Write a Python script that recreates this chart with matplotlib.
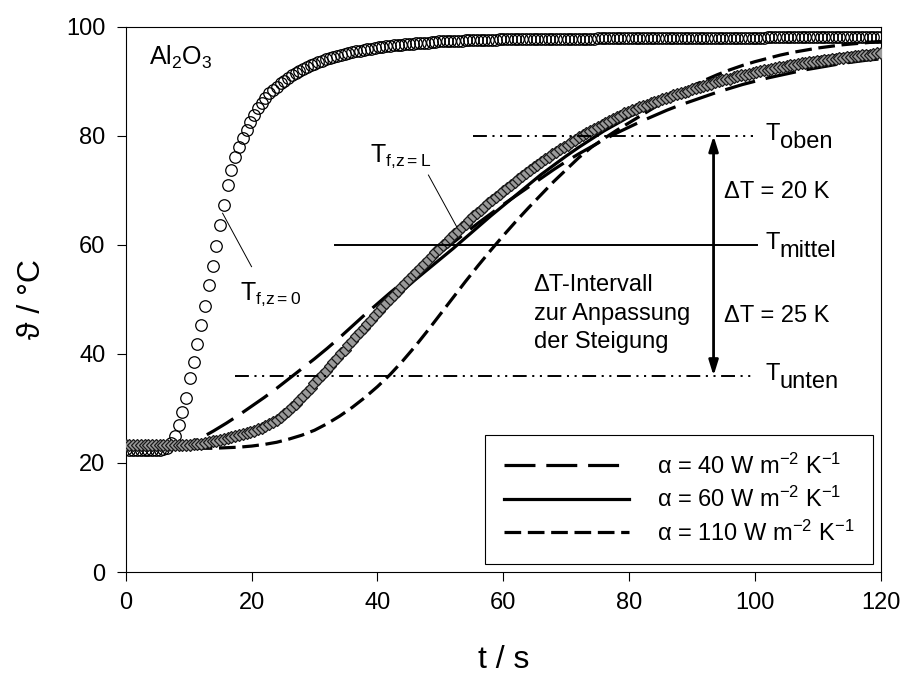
import numpy as np
import matplotlib
matplotlib.use("Agg")
import matplotlib.pyplot as plt

plt.rcParams['font.family'] = ['Liberation Sans', 'DejaVu Sans']
plt.rcParams['mathtext.fontset'] = 'custom'
plt.rcParams['mathtext.rm'] = 'Liberation Sans'
plt.rcParams['mathtext.it'] = 'Liberation Sans:italic'
plt.rcParams['lines.scale_dashes'] = False

# measured fluid temperatures (sampled every 0.6 s)
t_meas = np.linspace(0, 120, 201)
T_in = [
    22.6, 22.4, 22.4, 22.4, 22.4, 22.4, 22.4, 22.4, 22.4, 22.4,
    22.5, 22.8, 23.7, 25.0, 27.0, 29.4, 32.0, 35.5, 38.6, 41.8,
    45.3, 48.8, 52.6, 56.1, 59.7, 63.6, 67.3, 70.9, 73.8, 76.1,
    77.9, 79.6, 81.1, 82.6, 83.9, 85.1, 86.1, 87.0, 87.8, 88.4,
    89.0, 89.6, 90.1, 90.6, 91.1, 91.5, 91.9, 92.3, 92.6, 92.9,
    93.2, 93.5, 93.8, 94.0, 94.2, 94.4, 94.6, 94.8, 95.0, 95.2,
    95.3, 95.5, 95.6, 95.8, 95.9, 96.0, 96.1, 96.2, 96.3, 96.4,
    96.5, 96.6, 96.7, 96.7, 96.8, 96.9, 96.9, 97.0, 97.0, 97.1,
    97.1, 97.2, 97.2, 97.3, 97.3, 97.3, 97.4, 97.4, 97.4, 97.4,
    97.5, 97.5, 97.5, 97.5, 97.6, 97.6, 97.6, 97.6, 97.6, 97.7,
    97.7, 97.7, 97.7, 97.7, 97.7, 97.8, 97.8, 97.8, 97.8, 97.8,
    97.8, 97.8, 97.8, 97.8, 97.8, 97.8, 97.8, 97.8, 97.8, 97.8,
    97.8, 97.8, 97.8, 97.8, 97.8, 97.9, 97.9, 97.9, 97.9, 97.9,
    97.9, 97.9, 97.9, 97.9, 97.9, 97.9, 97.9, 97.9, 97.9, 97.9,
    97.9, 97.9, 97.9, 97.9, 97.9, 97.9, 97.9, 97.9, 97.9, 97.9,
    98.0, 98.0, 98.0, 98.0, 98.0, 98.0, 98.0, 98.0, 98.0, 98.0,
    98.0, 98.0, 98.0, 98.0, 98.0, 98.0, 98.0, 98.0, 98.0, 98.0,
    98.1, 98.1, 98.1, 98.1, 98.1, 98.1, 98.1, 98.1, 98.1, 98.1,
    98.1, 98.1, 98.1, 98.1, 98.1, 98.1, 98.1, 98.1, 98.1, 98.1,
    98.2, 98.2, 98.2, 98.2, 98.2, 98.2, 98.2, 98.2, 98.2, 98.2,
    98.2,
]
T_out = [
    23.3, 23.3, 23.3, 23.3, 23.3, 23.3, 23.3, 23.3, 23.3, 23.3,
    23.3, 23.3, 23.3, 23.3, 23.3, 23.3, 23.3, 23.3, 23.4, 23.4,
    23.5, 23.6, 23.8, 24.0, 24.1, 24.2, 24.4, 24.6, 24.7, 24.9,
    25.1, 25.3, 25.5, 25.7, 25.9, 26.2, 26.4, 26.7, 27.1, 27.5,
    27.9, 28.5, 29.0, 29.6, 30.2, 30.9, 31.6, 32.3, 33.0, 33.8,
    34.6, 35.4, 36.2, 36.9, 37.7, 38.5, 39.3, 40.1, 40.8, 41.6,
    42.4, 43.2, 44.0, 44.7, 45.5, 46.3, 47.1, 47.8, 48.6, 49.4,
    50.1, 50.8, 51.5, 52.3, 53.0, 53.7, 54.4, 55.1, 55.8, 56.5,
    57.2, 57.9, 58.6, 59.3, 59.9, 60.6, 61.3, 61.9, 62.6, 63.2,
    63.9, 64.5, 65.2, 65.8, 66.4, 67.0, 67.6, 68.2, 68.8, 69.3,
    69.9, 70.5, 71.0, 71.6, 72.1, 72.7, 73.2, 73.7, 74.2, 74.7,
    75.2, 75.7, 76.2, 76.6, 77.1, 77.6, 78.0, 78.4, 78.9, 79.3,
    79.7, 80.1, 80.5, 80.9, 81.2, 81.6, 82.0, 82.3, 82.7, 83.0,
    83.4, 83.7, 84.1, 84.4, 84.7, 85.0, 85.2, 85.5, 85.7, 86.0,
    86.2, 86.4, 86.7, 86.9, 87.2, 87.4, 87.6, 87.8, 88.0, 88.3,
    88.5, 88.7, 88.9, 89.1, 89.3, 89.5, 89.8, 90.0, 90.2, 90.4,
    90.5, 90.7, 90.9, 91.1, 91.2, 91.4, 91.5, 91.7, 91.8, 92.0,
    92.1, 92.3, 92.4, 92.6, 92.7, 92.8, 92.9, 93.0, 93.1, 93.3,
    93.4, 93.5, 93.6, 93.7, 93.8, 93.9, 93.9, 94.0, 94.1, 94.2,
    94.3, 94.4, 94.5, 94.6, 94.7, 94.8, 94.8, 94.9, 95.0, 95.1,
    95.2,
]

# model curves (every 2 s)
t_model = np.arange(0, 121, 2)
T_a40 = [
    22.8, 22.8, 22.8, 22.8, 23.0, 23.6, 24.6, 25.9, 27.3, 28.8,
    30.4, 32.0, 33.7, 35.5, 37.3, 39.1, 41.0, 43.0, 45.1, 47.2,
    49.2, 51.2, 53.1, 55.0, 56.8, 58.6, 60.4, 62.2, 64.0, 65.7,
    67.4, 69.0, 70.6, 72.2, 73.8, 75.3, 76.7, 78.0, 79.3, 80.5,
    81.6, 82.7, 83.7, 84.7, 85.6, 86.4, 87.2, 88.0, 88.7, 89.4,
    90.0, 90.6, 91.1, 91.6, 92.1, 92.5, 92.9, 93.3, 93.6, 93.9,
    94.1,
]
T_a60 = [
    23.0, 23.0, 23.0, 23.0, 23.0, 23.1, 23.2, 23.5, 24.0, 24.6,
    25.4, 26.5, 27.9, 29.6, 31.6, 34.0, 36.6, 39.3, 42.0, 44.6,
    47.1, 49.4, 51.6, 53.6, 55.5, 57.4, 59.3, 61.3, 63.3, 65.3,
    67.2, 69.1, 71.0, 72.9, 74.6, 76.3, 77.9, 79.4, 80.9, 82.2,
    83.5, 84.6, 85.7, 86.7, 87.7, 88.6, 89.4, 90.2, 90.9, 91.5,
    92.1, 92.6, 93.1, 93.5, 93.9, 94.3, 94.6, 94.9, 95.2, 95.4,
    95.6,
]
T_a110 = [
    22.7, 22.7, 22.7, 22.7, 22.7, 22.7, 22.7, 22.7, 22.8, 22.9,
    23.1, 23.4, 23.8, 24.4, 25.1, 26.0, 27.2, 28.6, 30.2, 32.0,
    34.0, 36.2, 38.7, 41.4, 44.3, 47.3, 50.3, 53.3, 56.2, 59.0,
    61.7, 64.3, 66.8, 69.2, 71.6, 73.8, 76.0, 77.9, 79.5, 81.0,
    82.4, 83.8, 85.2, 86.6, 87.9, 89.1, 90.2, 91.2, 92.1, 92.9,
    93.6, 94.2, 94.8, 95.3, 95.7, 96.1, 96.4, 96.7, 96.9, 97.1,
    97.3,
]
alpha_values = [40, 60, 110]

# evaluation levels for the slope fit
T_levels = [80, 60, 36]
level_names = ['oben', 'mittel', 'unten']

fig, ax = plt.subplots(figsize=(9.06, 6.73), dpi=100)
fig.subplots_adjust(left=0.1387, right=0.9724, bottom=0.15, top=0.9603)

ax.plot(t_meas, T_in, ls='none', marker='o', ms=8.3, mfc='none', mec='k', mew=0.9, zorder=2)

styles = [(0, (22.3, 7.8)), '-', (0, (12, 4.8))]
handles = []
for T_mod, a, ls in zip([T_a40, T_a60, T_a110], alpha_values, styles):
    h, = ax.plot(t_model, T_mod, color='k', lw=2.3, ls=ls, zorder=3,
                 label=f'α = {a} W m$\\mathregular{{^{{-2}}}}$ K$\\mathregular{{^{{-1}}}}$')
    handles.append(h)

ax.plot(t_meas, T_out, ls='none', marker='D', ms=6.5, mfc='#9a9a9a', mec='#1a1a1a', mew=0.9, zorder=4)

# reference levels
ddot = (0, (10, 4, 1.5, 4, 1.5, 4))
ax.plot([55.2, 99.7], [T_levels[0]] * 2, color='k', lw=1.4, ls=ddot, zorder=5)
ax.plot([33.3, 100.3], [T_levels[1]] * 2, color='k', lw=1.4, zorder=5)
ax.plot([17.4, 99.5], [T_levels[2]] * 2, color='k', lw=1.4, ls=ddot, zorder=5)
for lev, name in zip(T_levels, level_names):
    ax.text(101.6, lev - 0.8, 'T', fontsize=17, va='baseline', ha='left')
    ax.annotate(name, xy=(101.6, lev - 0.8), xytext=(10.5, -5.5), textcoords='offset points',
                fontsize=17, va='baseline', ha='left')

ax.annotate('', xy=(93.4, T_levels[0]), xytext=(93.4, T_levels[2]),
            arrowprops=dict(arrowstyle='<|-|>,head_length=0.9,head_width=0.28', color='k',
                            lw=2, shrinkA=0, shrinkB=0), zorder=6)
ax.text(95.1, 68.5, 'ΔT = 20 K', fontsize=17, va='baseline')
ax.text(95.1, 45.9, 'ΔT = 25 K', fontsize=17, va='baseline')
ax.text(64.8, 41.0, 'ΔT-Intervall\nzur Anpassung\nder Steigung', fontsize=17,
        va='baseline', ha='left', linespacing=1.4)

ax.text(3.75, 93.0, r'Al$\mathregular{_2}$O$\mathregular{_3}$', fontsize=18, va='baseline')
ax.text(18.2, 49.9, r'$\mathregular{T_{f{,}z{=}0}}$', fontsize=18, va='baseline')
ax.plot([20.0, 15.4], [56.0, 65.8], color='k', lw=0.7)
ax.text(38.8, 75.2, r'$\mathregular{T_{f{,}z{=}L}}$', fontsize=18, va='baseline')
ax.plot([48.1, 52.6], [72.8, 63.3], color='k', lw=0.7, zorder=6)

leg = ax.legend(handles=handles, loc='lower right', bbox_to_anchor=(0.99, 0.014), fontsize=17,
                frameon=True, fancybox=False, edgecolor='k', framealpha=1, borderpad=0.8,
                labelspacing=0.35, handlelength=5.3, handletextpad=1.2, borderaxespad=0)
leg.get_frame().set_linewidth(0.8)

ax.set_xlim(0, 120)
ax.set_ylim(0, 100)
ax.set_xticks(range(0, 121, 20))
ax.set_yticks(range(0, 101, 20))
ax.tick_params(direction='out', length=6.5, width=0.8, labelsize=17, pad=8)
for s in ax.spines.values():
    s.set_linewidth(0.8)
ax.set_xlabel('t / s', fontsize=23, labelpad=22)
ax.set_ylabel('ϑ / °C', fontsize=23, labelpad=14)

fig.savefig('out.png', dpi=100)
